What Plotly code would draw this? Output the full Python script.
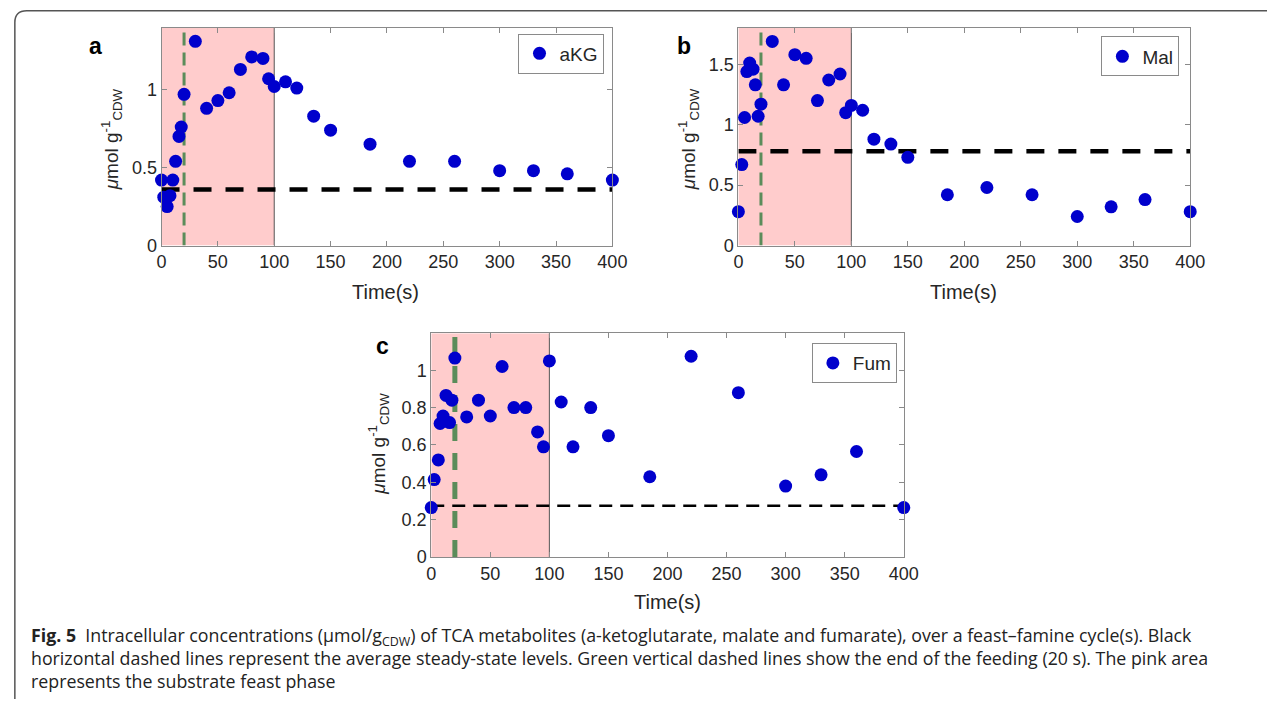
import plotly.graph_objects as go

# ---------------- data ----------------
t_akg = [0, 2, 5, 7.5, 10, 12.5, 15.5, 17.5, 20, 30, 40, 50, 60, 70, 80, 90, 95, 100,
         110, 120, 135, 150, 185, 220, 260, 300, 330, 360, 400]
akg = [0.42, 0.31, 0.25, 0.32, 0.42, 0.54, 0.70, 0.76, 0.97, 1.31, 0.88, 0.93, 0.98,
       1.13, 1.21, 1.20, 1.07, 1.02, 1.05, 1.01, 0.83, 0.74, 0.65, 0.54, 0.54, 0.48,
       0.48, 0.46, 0.42]
akg_ss = 0.36

t_mal = [0, 3, 5.5, 7.5, 10, 13, 15, 17.5, 20, 30, 40, 50, 60, 70, 80, 90, 95, 100,
         110, 120, 135, 150, 185, 220, 260, 300, 330, 360, 400]
mal = [0.28, 0.67, 1.06, 1.44, 1.51, 1.46, 1.33, 1.07, 1.17, 1.69, 1.33, 1.58, 1.55,
       1.20, 1.37, 1.42, 1.10, 1.16, 1.12, 0.88, 0.84, 0.73, 0.42, 0.48, 0.42, 0.24,
       0.32, 0.38, 0.28]
mal_ss = 0.78

t_fum = [0, 2.5, 6, 7.5, 10, 12.5, 15.5, 17.5, 20, 30, 40, 50, 60, 70, 80, 90, 95, 100,
         110, 120, 135, 150, 185, 220, 260, 300, 330, 360, 400]
fum = [0.265, 0.415, 0.52, 0.715, 0.755, 0.865, 0.72, 0.84, 1.065, 0.75, 0.84, 0.755,
       1.02, 0.80, 0.80, 0.67, 0.59, 1.05, 0.83, 0.59, 0.80, 0.65, 0.43, 1.075, 0.88,
       0.38, 0.44, 0.565, 0.265]
fum_ss = 0.275

feed_end = 20
feast_end = 100
x_ticks = [0, 50, 100, 150, 200, 250, 300, 350, 400]
y_ticks_a = [0, 0.5, 1]
y_ticks_b = [0, 0.5, 1, 1.5]
y_ticks_c = [0, 0.2, 0.4, 0.6, 0.8, 1]
y_max = [1.398, 1.804, 1.198]

W, H = 1282, 713

def px(x):
    return x / W

def py(y):
    return 1 - y / H

BLUE = "#0000CC"
GREEN = "#5B8C5A"
PINK = "#FFCCCC"
AXC = "#8a8a8a"
TXT = "#262626"
FONT = "Liberation Sans, Arial, sans-serif"
YTITLE = "<i>μ</i>mol g<sup>-1</sup><sub>CDW</sub>"

fig = go.Figure()

panels = [
    dict(t=t_akg, v=akg, ss=akg_ss, name="aKG", ticks=y_ticks_a, ymax=y_max[0],
         dom_x=(159, 617), dom_y=(28, 249), leg=(609, 34), lab=(92, 47), lab_t="a",
         yt=(108, 141), xt=(387, 296),
         gw=3, gd="13px,7px", bw=4.5, bd="18px,14px"),
    dict(t=t_mal, v=mal, ss=mal_ss, name="Mal", ticks=y_ticks_b, ymax=y_max[1],
         dom_x=(745, 1204), dom_y=(28, 249), leg=(1193, 37), lab=(690, 47), lab_t="b",
         yt=(694, 141), xt=(974, 296),
         gw=3, gd="13px,7px", bw=4.5, bd="18px,14px"),
    dict(t=t_fum, v=fum, ss=fum_ss, name="Fum", ticks=y_ticks_c, ymax=y_max[2],
         dom_x=(433, 913), dom_y=(338, 565), leg=(906, 348), lab=(383, 351), lab_t="c",
         yt=(380, 450), xt=(673, 611),
         gw=5, gd="17px,12px", bw=2.5, bd="13px,8px"),
]

shapes = []
annotations = []
for i, p in enumerate(panels):
    k = "" if i == 0 else str(i + 1)
    xa, ya = "x" + k, "y" + k
    leg = "legend" + k
    fig.add_trace(go.Scatter(
        x=p["t"], y=p["v"], mode="markers", name=p["name"],
        marker=dict(color=BLUE, size=13, line=dict(width=0)),
        xaxis=xa, yaxis=ya, legend=leg, showlegend=True, cliponaxis=False))

    fig.update_layout(**{
        "xaxis" + k: dict(
            domain=[px(p["dom_x"][0]), px(p["dom_x"][1])], anchor=ya,
            range=[0, 400], tickvals=x_ticks, ticks="inside", ticklen=5,
            tickcolor=AXC, showline=True, linecolor=AXC, linewidth=1,
            mirror="allticks", showgrid=False, zeroline=False,
            tickfont=dict(family=FONT, size=18, color=TXT)),
        "yaxis" + k: dict(
            domain=[py(p["dom_y"][1]), py(p["dom_y"][0])], anchor=xa,
            range=[0, p["ymax"]], tickvals=p["ticks"], ticks="inside", ticklen=5,
            tickcolor=AXC, showline=True, linecolor=AXC, linewidth=1,
            mirror="allticks", showgrid=False, zeroline=False,
            tickfont=dict(family=FONT, size=18, color=TXT)),
        leg: dict(
            x=px(p["leg"][0]), y=py(p["leg"][1]), xanchor="right", yanchor="top",
            xref="paper", yref="paper", bgcolor="white", bordercolor=AXC,
            borderwidth=1, font=dict(family=FONT, size=19, color=TXT),
            itemwidth=30),
    })

    # feast phase (pink) and its right edge
    shapes.append(dict(type="rect", xref=xa, yref=ya, x0=0, x1=feast_end, y0=0,
                       y1=p["ymax"], fillcolor=PINK, line=dict(width=0), layer="below"))
    shapes.append(dict(type="line", xref=xa, yref=ya, x0=feast_end, x1=feast_end,
                       y0=0, y1=p["ymax"], line=dict(color="#555555", width=1),
                       layer="below"))
    # end of feeding (green dashed)
    shapes.append(dict(type="line", xref=xa, yref=ya, x0=feed_end, x1=feed_end,
                       y0=0, y1=p["ymax"], line=dict(color=GREEN, width=p["gw"],
                                                     dash=p["gd"]), layer="below"))
    # average steady-state level (black dashed)
    shapes.append(dict(type="line", xref=xa, yref=ya, x0=0, x1=400, y0=p["ss"],
                       y1=p["ss"], line=dict(color="black", width=p["bw"], dash=p["bd"]),
                       layer="below"))
    annotations.append(dict(text="<b>%s</b>" % p["lab_t"], x=px(p["lab"][0]),
                            y=py(p["lab"][1]), xref="paper", yref="paper",
                            showarrow=False, xanchor="center", yanchor="middle",
                            font=dict(family=FONT, size=23, color="black")))
    annotations.append(dict(text=YTITLE, x=px(p["yt"][0]), y=py(p["yt"][1]),
                            xref="paper", yref="paper", showarrow=False, textangle=-90,
                            xanchor="center", yanchor="middle",
                            font=dict(family=FONT, size=19, color=TXT)))
    annotations.append(dict(text="Time(s)", x=px(p["xt"][0]), y=py(p["xt"][1]),
                            xref="paper", yref="paper", showarrow=False,
                            xanchor="center", yanchor="middle",
                            font=dict(family=FONT, size=20, color=TXT)))

# outer rounded frame (open on the right)
r = 12
shapes.append(dict(type="path", xref="paper", yref="paper",
                   path="M {a} {b} L {c} {b} Q {d} {b} {d} {e} L {d} {f}".format(
                       a=1.0, b=py(11), c=px(10 + r), d=px(10), e=py(11 + r), f=py(709)),
                   line=dict(color="#555555", width=1.5)))

cap_font = "Open Sans, Noto Sans, sans-serif"
caption = ("<b>Fig. 5</b>  Intracellular concentrations (µmol/g<sub>CDW</sub>) of TCA "
           "metabolites (a-ketoglutarate, malate and fumarate), over a feast–famine "
           "cycle(s). Black<br>horizontal dashed lines represent the average steady-state "
           "levels. Green vertical dashed lines show the end of the feeding (20 s). The "
           "pink area<br>represents the substrate feast phase")
annotations.append(dict(text=caption, x=px(24), y=py(667), xref="paper", yref="paper",
                        showarrow=False, xanchor="left", yanchor="middle", align="left",
                        font=dict(family=cap_font, size=17.8, color="#222222")))

fig.update_layout(
    width=W, height=H, margin=dict(l=0, r=0, t=0, b=0),
    paper_bgcolor="white", plot_bgcolor="white",
    shapes=shapes, annotations=annotations,
)

fig.write_html("out.html")
